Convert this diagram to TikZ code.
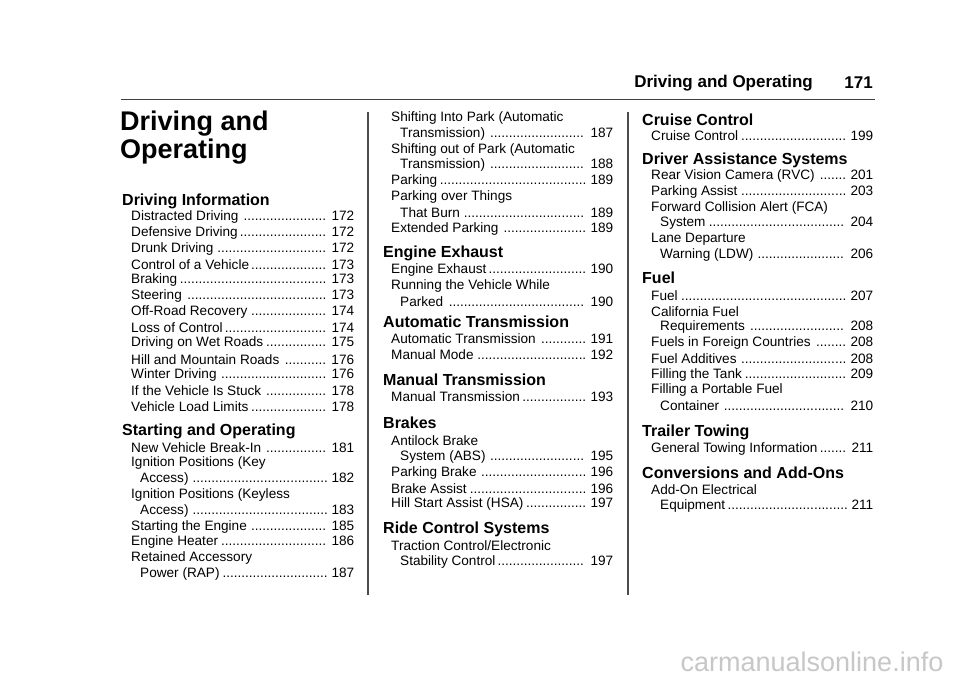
\documentclass[tikz,border=0pt]{standalone}
\usepackage{fontspec}
\setmainfont{Liberation Sans}
\newcounter{nd}
\newcommand\mydots{\leaders\hbox to 3.75pt{\hss.\hss}\hfill}
\tikzset{ent/.style={anchor=west,inner sep=0pt,font=\fontsize{13.6}{15}\selectfont},
 hd/.style={anchor=west,inner sep=0pt,font=\fontsize{16}{18}\selectfont\bfseries},
 ttl/.style={anchor=west,inner sep=0pt,font=\fontsize{27}{30}\selectfont\bfseries}}
\newcommand\ent[5]{\stepcounter{nd}\node[ent] (n\thend) at (#1,#2) {\hbox to #3pt{#4\hskip2pt\mydots\hskip3pt #5}};}
\newcommand\lin[3]{\stepcounter{nd}\node[ent] (n\thend) at (#1,#2) {#3};}
\newcommand\hd[3]{\stepcounter{nd}\node[hd] (n\thend) at (#1,#2) {#3};}
\begin{document}
\begin{tikzpicture}[x=1pt,y=-1pt]
\useasboundingbox[fill=white] (0,0) rectangle (960,678);
% header
\node[anchor=east,inner sep=0pt,font=\fontsize{17}{19}\selectfont\bfseries] (hdr) at (813,83) {Driving and Operating};
\node[anchor=east,inner sep=0pt,font=\fontsize{17}{19}\selectfont\bfseries] (pg) at (873,83) {171};
\coordinate (r1) at (121,99); \coordinate (r2) at (875,99);
\draw[line width=1pt,black!75] (r1) -- (r2);
\coordinate (d1a) at (368,112); \coordinate (d1b) at (368,595);
\coordinate (d2a) at (628,112); \coordinate (d2b) at (628,595);
\draw[line width=1.1pt,black!70] (d1a) -- (d1b);
\draw[line width=1.1pt,black!70] (d2a) -- (d2b);
% column 1
\node[ttl] (t1) at (120,124) {Driving and};
\node[ttl] (t2) at (120,152) {Operating};
\hd{122}{201}{Driving Information}
\ent{131}{217}{223}{Distracted Driving}{172}
\ent{131}{232.8}{223}{Defensive Driving}{172}
\ent{131}{248.6}{223}{Drunk Driving}{172}
\ent{131}{264.4}{223}{Control of a Vehicle}{173}
\ent{131}{280.2}{223}{Braking}{173}
\ent{131}{296}{223}{Steering}{173}
\ent{131}{311.8}{223}{Off-Road Recovery}{174}
\ent{131}{327.6}{223}{Loss of Control}{174}
\ent{131}{343.4}{223}{Driving on Wet Roads}{175}
\ent{131}{359.2}{223}{Hill and Mountain Roads}{176}
\ent{131}{375}{223}{Winter Driving}{176}
\ent{131}{390.8}{223}{If the Vehicle Is Stuck}{178}
\ent{131}{406.6}{223}{Vehicle Load Limits}{178}
\hd{122}{431}{Starting and Operating}
\ent{131}{447.5}{223}{New Vehicle Break-In}{181}
\lin{131}{463.3}{Ignition Positions (Key}
\ent{140}{479.1}{214}{Access)}{182}
\lin{131}{494.9}{Ignition Positions (Keyless}
\ent{140}{510.7}{214}{Access)}{183}
\ent{131}{526.5}{223}{Starting the Engine}{185}
\ent{131}{542.3}{223}{Engine Heater}{186}
\lin{131}{558.1}{Retained Accessory}
\ent{140}{573.9}{214}{Power (RAP)}{187}
% column 2
\lin{391}{118}{Shifting Into Park (Automatic}
\ent{400}{133.8}{213}{Transmission)}{187}
\lin{391}{149.6}{Shifting out of Park (Automatic}
\ent{400}{165.4}{213}{Transmission)}{188}
\ent{391}{181.2}{222}{Parking}{189}
\lin{391}{197}{Parking over Things}
\ent{400}{212.8}{213}{That Burn}{189}
\ent{391}{228.6}{222}{Extended Parking}{189}
\hd{383}{253}{Engine Exhaust}
\ent{391}{270}{222}{Engine Exhaust}{190}
\lin{391}{285.8}{Running the Vehicle While}
\ent{400}{301.6}{213}{Parked}{190}
\hd{383}{322}{Automatic Transmission}
\ent{391}{338.5}{222}{Automatic Transmission}{191}
\ent{391}{354.3}{222}{Manual Mode}{192}
\hd{383}{380}{Manual Transmission}
\ent{391}{397}{222}{Manual Transmission}{193}
\hd{383}{423}{Brakes}
\lin{391}{441}{Antilock Brake}
\ent{400}{456.8}{213}{System (ABS)}{195}
\ent{391}{472.6}{222}{Parking Brake}{196}
\ent{391}{488.4}{222}{Brake Assist}{196}
\ent{391}{504.2}{222}{Hill Start Assist (HSA)}{197}
\hd{383}{529}{Ride Control Systems}
\lin{391}{546}{Traction Control/Electronic}
\ent{400}{561.8}{213}{Stability Control}{197}
% column 3
\hd{642}{120}{Cruise Control}
\ent{651}{136}{222}{Cruise Control}{199}
\hd{642}{160}{Driver Assistance Systems}
\ent{651}{176}{222}{Rear Vision Camera (RVC)}{201}
\ent{651}{191.8}{222}{Parking Assist}{203}
\lin{651}{207.6}{Forward Collision Alert (FCA)}
\ent{660}{223.4}{213}{System}{204}
\lin{651}{239.2}{Lane Departure}
\ent{660}{255}{213}{Warning (LDW)}{206}
\hd{642}{278}{Fuel}
\ent{651}{295.5}{222}{Fuel}{207}
\lin{651}{311.3}{California Fuel}
\ent{660}{327.1}{213}{Requirements}{208}
\ent{651}{342.9}{222}{Fuels in Foreign Countries}{208}
\ent{651}{358.7}{222}{Fuel Additives}{208}
\ent{651}{374.5}{222}{Filling the Tank}{209}
\lin{651}{390.3}{Filling a Portable Fuel}
\ent{660}{406.1}{213}{Container}{210}
\hd{642}{432}{Trailer Towing}
\ent{651}{449}{222}{General Towing Information}{211}
\hd{642}{473}{Conversions and Add-Ons}
\lin{651}{490}{Add-On Electrical}
\ent{660}{505.8}{213}{Equipment}{211}
% watermark
\node[inner sep=0pt,text=black!22,font=\fontsize{27}{30}\selectfont] (wm) at (812,662) {carmanualsonline.info};
\end{tikzpicture}
\end{document}
